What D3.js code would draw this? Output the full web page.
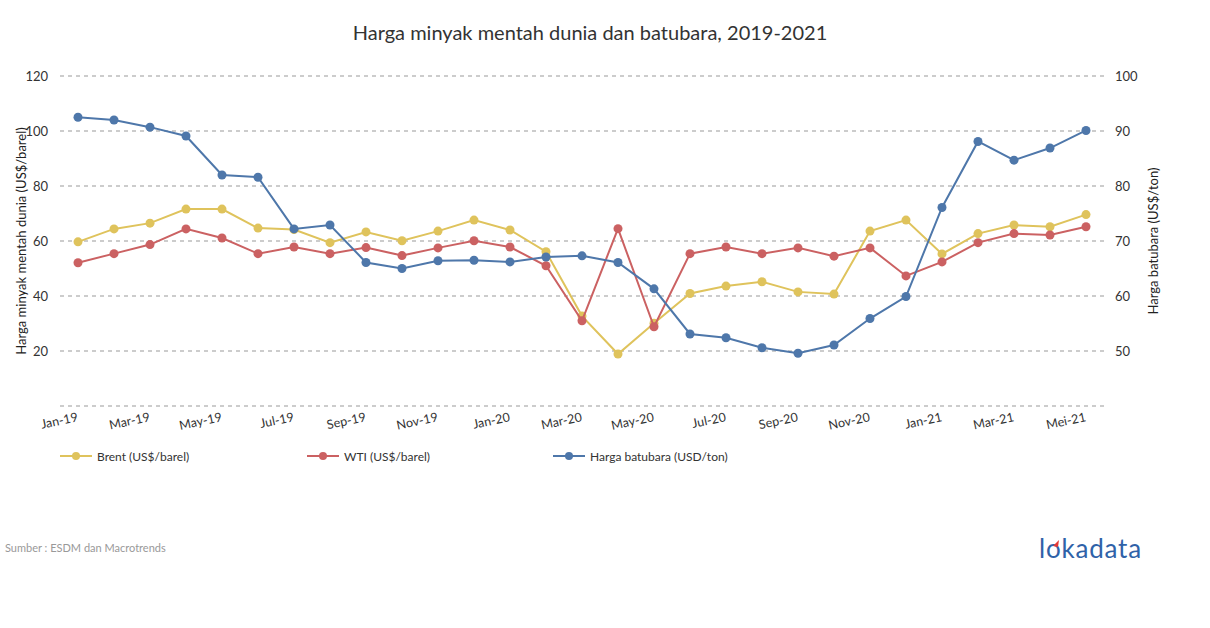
<!DOCTYPE html>
<html>
<head>
<meta charset="utf-8">
<script src="https://cdn.jsdelivr.net/npm/d3@7"></script>
<style>
  body { margin: 0; background: #fff; }
  text { font-family: Lato, "Open Sans", sans-serif; }
</style>
</head>
<body>
<div id="chart"></div>
<script>
// Data
const months = ['Jan-19','Feb-19','Mar-19','Apr-19','May-19','Jun-19','Jul-19','Aug-19','Sep-19','Oct-19','Nov-19','Dec-19',
  'Jan-20','Feb-20','Mar-20','Apr-20','May-20','Jun-20','Jul-20','Aug-20','Sep-20','Oct-20','Nov-20','Dec-20',
  'Jan-21','Feb-21','Mar-21','Apr-21','Mei-21'];
const tickMonths = ['Jan-19','Mar-19','May-19','Jul-19','Sep-19','Nov-19','Jan-20','Mar-20','May-20','Jul-20','Sep-20','Nov-20','Jan-21','Mar-21','Mei-21'];
const brent = [59.7,64.4,66.5,71.6,71.6,64.7,64.2,59.4,63.3,60.1,63.6,67.6,64.0,56.1,32.7,18.9,30.1,40.9,43.6,45.2,41.5,40.7,63.6,67.6,55.3,62.7,65.8,65.2,69.6];
const wti = [52.1,55.4,58.7,64.4,61.1,55.4,57.8,55.4,57.6,54.7,57.5,60.1,57.8,51.0,31.0,64.5,28.8,55.4,57.8,55.4,57.5,54.5,57.5,47.3,52.4,59.4,62.7,62.2,65.2];
const coal = [92.5,92.0,90.7,89.1,82.0,81.6,72.2,72.9,66.1,65.0,66.4,66.5,66.2,67.1,67.3,66.1,61.3,53.1,52.4,50.6,49.6,51.1,55.9,59.9,76.1,88.1,84.7,86.9,90.1];
const leftTicks = [0, 20, 40, 60, 80, 100, 120];
const rightTicks = [50, 60, 70, 80, 90, 100];

const W = 1210, H = 628;
const plot = { left: 60, right: 1104, top: 76, bottom: 406 };

const svg = d3.select('#chart').append('svg')
  .attr('width', W).attr('height', H);

const x = d3.scalePoint().domain(months).range([plot.left, plot.right]).padding(0.5);
const yL = d3.scaleLinear().domain([0, 120]).range([plot.bottom, plot.top]);
const yR = d3.scaleLinear().domain([40, 100]).range([plot.bottom, plot.top]);

// Title
svg.append('text')
  .attr('x', 590).attr('y', 40)
  .attr('text-anchor', 'middle')
  .attr('font-size', 20).attr('fill', '#333')
  .text('Harga minyak mentah dunia dan batubara, 2019-2021');

// Grid
svg.append('g').selectAll('line')
  .data(leftTicks).enter().append('line')
  .attr('x1', plot.left).attr('x2', plot.right)
  .attr('y1', d => yL(d)).attr('y2', d => yL(d))
  .attr('stroke', '#999').attr('stroke-width', 1)
  .attr('stroke-dasharray', '4,4');

// Left axis
const leftAxis = svg.append('g')
  .attr('transform', `translate(${plot.left},0)`)
  .call(d3.axisLeft(yL).tickValues(leftTicks.filter(d => d > 0)).tickSize(0).tickPadding(12));
leftAxis.select('.domain').remove();
leftAxis.selectAll('text').attr('font-size', 13).attr('fill', '#333').attr('font-family', 'Lato');

// Right axis
const rightAxis = svg.append('g')
  .attr('transform', `translate(${plot.right},0)`)
  .call(d3.axisRight(yR).tickValues(rightTicks).tickSize(0).tickPadding(11));
rightAxis.select('.domain').remove();
rightAxis.selectAll('text').attr('font-size', 13).attr('fill', '#333').attr('font-family', 'Lato');

// X axis
const xAxis = svg.append('g')
  .attr('transform', `translate(0,${plot.bottom})`)
  .call(d3.axisBottom(x).tickValues(tickMonths).tickSize(0).tickPadding(0));
xAxis.select('.domain').remove();
xAxis.selectAll('text')
  .attr('font-size', 12.5).attr('fill', '#333').attr('font-family', 'Lato')
  .attr('text-anchor', 'end')
  .attr('dy', 0)
  .attr('transform', 'translate(0,15) rotate(-12)');

// Axis titles
svg.append('text')
  .attr('transform', 'translate(26,241) rotate(-90)')
  .attr('text-anchor', 'middle')
  .attr('font-size', 13).attr('fill', '#222')
  .text('Harga minyak mentah dunia (US$/barel)');
svg.append('text')
  .attr('transform', 'translate(1158,241) rotate(-90)')
  .attr('text-anchor', 'middle')
  .attr('font-size', 13).attr('fill', '#222')
  .text('Harga batubara (US$/ton)');

// Series
const series = [
  { name: 'Brent (US$/barel)', values: brent, y: yL, color: '#dfc35c', lx: 60 },
  { name: 'WTI (US$/barel)', values: wti, y: yL, color: '#cb6162', lx: 307 },
  { name: 'Harga batubara (USD/ton)', values: coal, y: yR, color: '#4e77aa', lx: 553 }
];

series.forEach(s => {
  const line = d3.line()
    .x((d, i) => x(months[i]))
    .y(d => s.y(d));
  svg.append('path')
    .datum(s.values)
    .attr('fill', 'none')
    .attr('stroke', s.color)
    .attr('stroke-width', 2)
    .attr('d', line);
  svg.append('g').selectAll('circle')
    .data(s.values).enter().append('circle')
    .attr('cx', (d, i) => x(months[i]))
    .attr('cy', d => s.y(d))
    .attr('r', 4.5)
    .attr('fill', s.color);
});

// Legend
series.forEach(s => {
  const g = svg.append('g').attr('transform', `translate(${s.lx},456)`);
  g.append('line').attr('x1', 0).attr('x2', 32)
    .attr('stroke', s.color).attr('stroke-width', 2);
  g.append('circle').attr('cx', 16).attr('r', 4).attr('fill', s.color);
  g.append('text').attr('x', 37).attr('y', 4.5)
    .attr('font-size', 12).attr('fill', '#333')
    .text(s.name);
});

// Source
svg.append('text')
  .attr('x', 5).attr('y', 552)
  .attr('font-size', 11).attr('fill', '#999')
  .text('Sumber : ESDM dan Macrotrends');

// Logo
svg.append('text')
  .attr('x', 1039).attr('y', 558)
  .attr('font-size', 26).attr('fill', '#2f62a8')
  .attr('letter-spacing', 0.8)
  .text('lokadata');
svg.append('path')
  .attr('d', 'M1053,546 l6,-6 l-1,7 z')
  .attr('fill', '#e53935');
</script>
</body>
</html>
